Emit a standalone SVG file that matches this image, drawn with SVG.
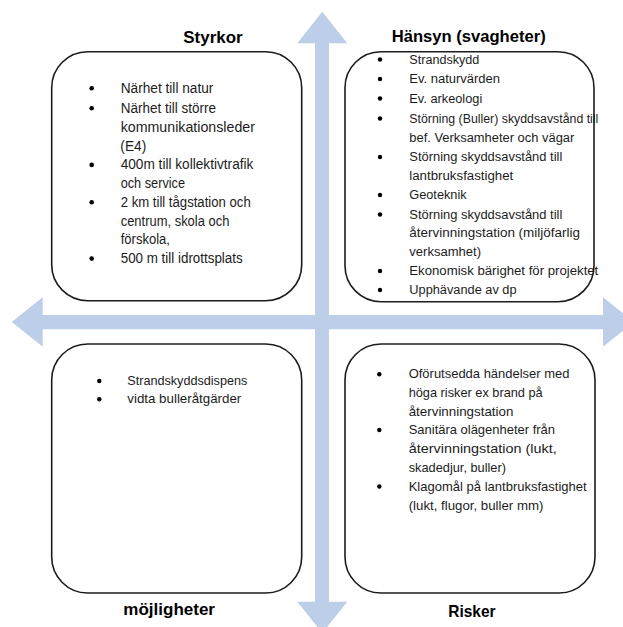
<svg xmlns="http://www.w3.org/2000/svg" width="623" height="627" viewBox="0 0 623 627">
<style>
.box{fill:#fff;stroke:#1c1c1c;stroke-width:1.6}
.t{font-family:"Liberation Sans",Arial,sans-serif;fill:#1c1c1c}
.title{font-weight:bold;font-size:16.5px;fill:#000}
.tl{font-size:14px}
.tr{font-size:12.5px}
.bl{font-size:13px}
.br{font-size:13px}
.bul{fill:#000}
.arrow{fill:#bccee8}
</style>
<rect width="623" height="627" fill="#fff"/>
<g id="connectors">
<polygon class="arrow" points="322.3,11.7 347.3,43.3 329,43.3 329,601.7 347.3,601.7 322.3,633 297.3,601.7 315,601.7 315,43.3 297.3,43.3"/>
<polygon class="arrow" points="11.7,322 42.7,297.3 42.7,315 603,315 603,297.3 634,322 603,346.7 603,329.3 42.7,329.3 42.7,346.7"/>
</g>
<g id="styrkor">
<rect class="box" x="51.7" y="51.7" width="250" height="249" rx="36" ry="36"/>
<text class="t title" x="183.3" y="43.3" textLength="59.3" lengthAdjust="spacingAndGlyphs">Styrkor</text>
<g class="bul"><circle cx="91.7" cy="88.3" r="2.3"/><circle cx="91.7" cy="108.3" r="2.3"/><circle cx="91.7" cy="164.9" r="2.3"/><circle cx="91.7" cy="202.3" r="2.3"/><circle cx="91.7" cy="258.6" r="2.3"/></g>
<text class="t tl" x="120.7" y="92.7" textLength="92.7" lengthAdjust="spacingAndGlyphs">Närhet till natur</text>
<text class="t tl" x="120.7" y="112.7" textLength="95.3" lengthAdjust="spacingAndGlyphs">Närhet till större</text>
<text class="t tl" x="120.7" y="131.7" textLength="134.3" lengthAdjust="spacingAndGlyphs">kommunikationsleder</text>
<text class="t tl" x="120.3" y="150.5" textLength="26" lengthAdjust="spacingAndGlyphs">(E4)</text>
<text class="t tl" x="120.7" y="169.3" textLength="132.7" lengthAdjust="spacingAndGlyphs">400m till kollektivtrafik</text>
<text class="t tl" x="120.7" y="188" textLength="64.3" lengthAdjust="spacingAndGlyphs">och service</text>
<text class="t tl" x="120.7" y="206.7" textLength="130" lengthAdjust="spacingAndGlyphs">2 km till tågstation och</text>
<text class="t tl" x="120.7" y="225.5" textLength="108.7" lengthAdjust="spacingAndGlyphs">centrum, skola och</text>
<text class="t tl" x="120.7" y="244.2" textLength="49.3" lengthAdjust="spacingAndGlyphs">förskola,</text>
<text class="t tl" x="120.7" y="263" textLength="122" lengthAdjust="spacingAndGlyphs">500 m till idrottsplats</text>
</g>
<g id="hansyn">
<rect class="box" x="345" y="51.7" width="249" height="250" rx="36" ry="36"/>
<text class="t title" x="391.7" y="41.7" textLength="154" lengthAdjust="spacingAndGlyphs">Hänsyn (svagheter)</text>
<g class="bul"><circle cx="380" cy="59.5" r="2.2"/><circle cx="380" cy="79" r="2.2"/><circle cx="380" cy="98.5" r="2.2"/><circle cx="380" cy="118.5" r="2.2"/><circle cx="380" cy="157" r="2.2"/><circle cx="380" cy="195" r="2.2"/><circle cx="380" cy="214.5" r="2.2"/><circle cx="380" cy="271" r="2.2"/><circle cx="380" cy="290" r="2.2"/></g>
<text class="t tr" x="409.3" y="63.5" textLength="70" lengthAdjust="spacingAndGlyphs">Strandskydd</text>
<text class="t tr" x="409.3" y="83" textLength="90.7" lengthAdjust="spacingAndGlyphs">Ev. naturvärden</text>
<text class="t tr" x="409.3" y="102.5" textLength="73" lengthAdjust="spacingAndGlyphs">Ev. arkeologi</text>
<text class="t tr" x="409.3" y="122.5" textLength="189" lengthAdjust="spacingAndGlyphs">Störning (Buller) skyddsavstånd till</text>
<text class="t tr" x="409.3" y="141.5" textLength="165" lengthAdjust="spacingAndGlyphs">bef. Verksamheter och vägar</text>
<text class="t tr" x="409.3" y="161" textLength="153" lengthAdjust="spacingAndGlyphs">Störning skyddsavstånd till</text>
<text class="t tr" x="409.3" y="180" textLength="104" lengthAdjust="spacingAndGlyphs">lantbruksfastighet</text>
<text class="t tr" x="409.3" y="199" textLength="57.3" lengthAdjust="spacingAndGlyphs">Geoteknik</text>
<text class="t tr" x="409.3" y="218.5" textLength="153" lengthAdjust="spacingAndGlyphs">Störning skyddsavstånd till</text>
<text class="t tr" x="409.3" y="237" textLength="170.7" lengthAdjust="spacingAndGlyphs">återvinningstation (miljöfarlig</text>
<text class="t tr" x="409.3" y="256" textLength="71.7" lengthAdjust="spacingAndGlyphs">verksamhet)</text>
<text class="t tr" x="409.3" y="275" textLength="189" lengthAdjust="spacingAndGlyphs">Ekonomisk bärighet för projektet</text>
<text class="t tr" x="409.3" y="294" textLength="107.3" lengthAdjust="spacingAndGlyphs">Upphävande av dp</text>
</g>
<g id="mojligheter">
<rect class="box" x="51.7" y="344" width="250" height="249" rx="36" ry="36"/>
<text class="t title" x="123.3" y="615" textLength="91.7" lengthAdjust="spacingAndGlyphs">möjligheter</text>
<g class="bul"><circle cx="99.3" cy="381" r="2.2"/><circle cx="99.3" cy="399.3" r="2.2"/></g>
<text class="t bl" x="127.3" y="385" textLength="120" lengthAdjust="spacingAndGlyphs">Strandskyddsdispens</text>
<text class="t bl" x="127.3" y="403.3" textLength="114" lengthAdjust="spacingAndGlyphs">vidta bulleråtgärder</text>
</g>
<g id="risker">
<rect class="box" x="345" y="344" width="250" height="249" rx="36" ry="36"/>
<text class="t title" x="448.3" y="617" textLength="47.3" lengthAdjust="spacingAndGlyphs">Risker</text>
<g class="bul"><circle cx="379.3" cy="374.3" r="2.2"/><circle cx="379.3" cy="430" r="2.2"/><circle cx="379.3" cy="486.5" r="2.2"/></g>
<text class="t br" x="408.7" y="378.3" textLength="160.7" lengthAdjust="spacingAndGlyphs">Oförutsedda händelser med</text>
<text class="t br" x="408.7" y="396.7" textLength="134" lengthAdjust="spacingAndGlyphs">höga risker ex brand på</text>
<text class="t br" x="408.7" y="415.5" textLength="104.7" lengthAdjust="spacingAndGlyphs">återvinningstation</text>
<text class="t br" x="408.7" y="434" textLength="146.3" lengthAdjust="spacingAndGlyphs">Sanitära olägenheter från</text>
<text class="t br" x="408.7" y="452.7" textLength="148" lengthAdjust="spacingAndGlyphs">återvinningstation (lukt,</text>
<text class="t br" x="408.7" y="471.5" textLength="97.3" lengthAdjust="spacingAndGlyphs">skadedjur, buller)</text>
<text class="t br" x="408.7" y="490.5" textLength="178" lengthAdjust="spacingAndGlyphs">Klagomål på lantbruksfastighet</text>
<text class="t br" x="408.7" y="509.5" textLength="134.7" lengthAdjust="spacingAndGlyphs">(lukt, flugor, buller mm)</text>
</g>
</svg>
